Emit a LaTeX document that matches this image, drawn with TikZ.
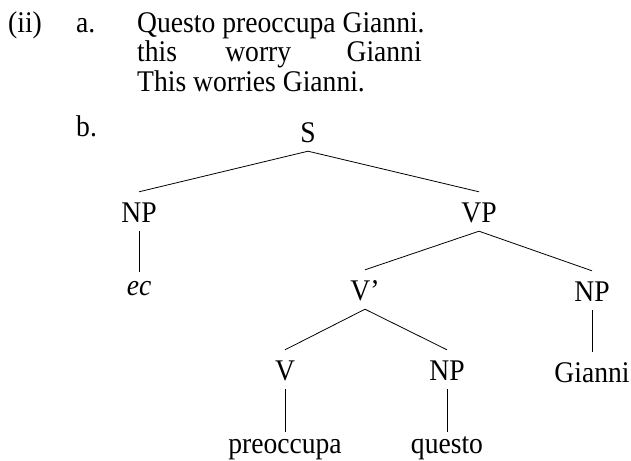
\documentclass[tikz,border=0pt]{standalone}
\usepackage{fontspec}
\setmainfont[FakeStretch=0.92]{Liberation Serif}
\newlength{\wqa}
\newlength{\wqb}
\AtBeginDocument{%
  \settowidth{\wqa}{\fontsize{30}{36}\selectfont Questo }%
  \settowidth{\wqb}{\fontsize{30}{36}\selectfont Questo preoccupa }}
\begin{document}
\begin{tikzpicture}[x=1pt,y=-1pt,
  fnt/.style={font=\fontsize{30}{36}\selectfont},
  txt/.style={fnt,inner sep=0pt,anchor=base west},
  cat/.style={fnt,inner sep=0pt,anchor=base,text height=30pt,text depth=9pt},
  leaf/.style={fnt,inner sep=0pt,anchor=base,text height=21pt,text depth=0pt},
  edge/.style={line width=0.8pt,black}]
\useasboundingbox (0,0) rectangle (631,460);
% example a
\node[txt] (ii) at (8,33) {(ii)};
\node[txt] (la) at (76,33) {a.};
\node[txt] (l1) at (137,33) {Questo preoccupa Gianni.};
\node[txt] (g1) at (137,62) {this};
\node[txt,xshift=\wqa+3pt] (g2) at (137,62) {worry};
\node[txt,xshift=\wqb+4pt] (g3) at (137,62) {Gianni};
\node[txt] (l3) at (137,91) {This worries Gianni.};
\node[txt] (lb) at (76,136) {b.};
% tree
\node[cat] (S) at (308,142) {S};
\node[cat] (NP1) at (139,222) {NP};
\node[cat] (VP) at (479,222) {VP};
\node[leaf,text height=23pt] (ec) at (139,295) {\itshape ec};
\node[cat] (Vb) at (365,300) {V’};
\node[cat] (NP2) at (592,301) {NP};
\node[cat] (V) at (285,380) {V};
\node[cat] (NP3) at (447,380) {NP};
\node[cat] (Gi) at (592,382) {Gianni};
\node[leaf] (pr) at (285,453) {preoccupa};
\node[leaf] (qu) at (447,453) {questo};
\draw[edge] (S.south) -- (NP1.north);
\draw[edge] (S.south) -- (VP.north);
\draw[edge] (NP1.south) -- (ec.north);
\draw[edge] (VP.south) -- (Vb.north);
\draw[edge] (VP.south) -- (NP2.north);
\draw[edge] (NP2.south) -- (Gi.north);
\draw[edge] (Vb.south) -- (V.north);
\draw[edge] (Vb.south) -- (NP3.north);
\draw[edge] (V.south) -- (pr.north);
\draw[edge] (NP3.south) -- (qu.north);
\end{tikzpicture}
\end{document}
